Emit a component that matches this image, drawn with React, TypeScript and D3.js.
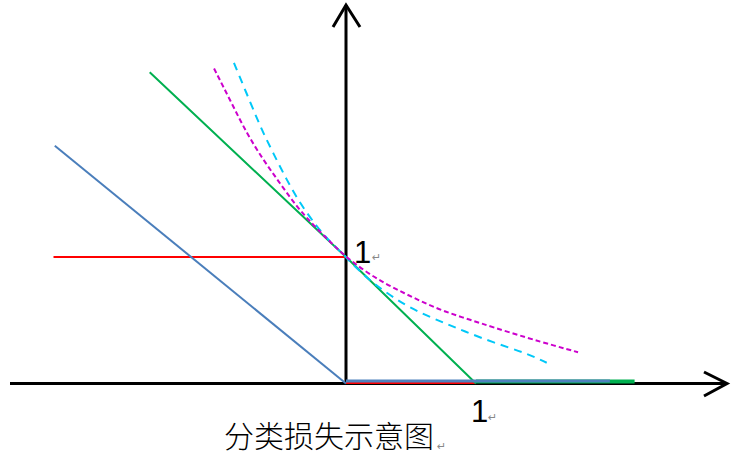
import React, { useEffect, useRef } from 'react'
import * as d3 from 'd3'

// values, in axis units (x unit = "1" tick, y unit = "1" tick)
const zeroOneLeft: [number, number][] = [[-2.25, 1], [0, 1]]
const zeroOneRight: [number, number][] = [[0, 0], [1, 0]]
const perceptron: [number, number][] = [[-2.24, 1.88], [0, 0]]
const perceptronFlat: [number, number][] = [[0, 0], [2.03, 0]]
const hinge: [number, number][] = [[-1.51, 2.46], [0, 1], [1, 0]]
const hingeFlat: [number, number][] = [[1, 0], [2.22, 0]]
const logLoss: [number, number][] = [
  [-1.015, 2.49], [-0.879, 2.215], [-0.764, 1.978], [-0.636, 1.767], [-0.508, 1.583],
  [-0.379, 1.398], [-0.252, 1.253], [-0.123, 1.12], [0, 1], [0.15, 0.885], [0.3, 0.79],
  [0.45, 0.713], [0.6, 0.638], [0.76, 0.568], [0.95, 0.505], [1.13, 0.445], [1.39, 0.362],
  [1.6, 0.3], [1.785, 0.247],
]
const expLoss: [number, number][] = [
  [-0.862, 2.534], [-0.733, 2.215], [-0.648, 2.004], [-0.559, 1.82], [-0.456, 1.609],
  [-0.354, 1.425], [-0.225, 1.24], [-0.123, 1.12], [0, 1], [0.146, 0.844], [0.3, 0.726],
  [0.454, 0.62], [0.608, 0.542], [0.762, 0.476], [0.902, 0.417], [1.133, 0.323],
  [1.39, 0.239], [1.544, 0.164],
]
const tickLabel = '1'
const title = '分类损失示意图'

const W = 732
const H = 460

export default function App() {
  const ref = useRef<SVGSVGElement>(null)

  useEffect(() => {
    const svg = d3.select(ref.current)
    svg.selectAll('*').remove()

    const x = d3.scaleLinear().domain([0, 1]).range([346, 476])
    const y = d3.scaleLinear().domain([0, 1]).range([383.5, 257])

    const line = (dy = 0) =>
      d3.line<[number, number]>().x((d) => x(d[0])).y((d) => y(d[1]) + dy)
    const smooth = d3
      .line<[number, number]>()
      .x((d) => x(d[0]))
      .y((d) => y(d[1]))
      .curve(d3.curveBasis)

    // axes
    const ax = svg.append('g').attr('stroke', '#000').attr('stroke-width', 3).attr('fill', 'none')
    ax.append('line').attr('x1', 10).attr('x2', 727).attr('y1', y(0)).attr('y2', y(0))
    ax.append('path').attr('d', `M704,372L727,${y(0)}L704,396`)
    ax.append('line').attr('x1', x(0)).attr('x2', x(0)).attr('y1', y(0)).attr('y2', 5)
    ax.append('path').attr('d', `M333,27L${x(0)},5L360,27`)

    // solid losses
    svg.append('path').attr('d', line()(zeroOneLeft)).attr('stroke', '#ff0000').attr('stroke-width', 2).attr('fill', 'none')
    svg.append('path').attr('d', line(-1)(zeroOneRight)).attr('stroke', '#ff0000').attr('stroke-width', 3).attr('fill', 'none')
    svg.append('path').attr('d', line(-2)(hingeFlat)).attr('stroke', '#00b050').attr('stroke-width', 4).attr('fill', 'none')
    svg.append('path').attr('d', line()(hinge)).attr('stroke', '#00b050').attr('stroke-width', 2).attr('fill', 'none')
    svg.append('path').attr('d', line()(perceptron)).attr('stroke', '#4a7ebb').attr('stroke-width', 2).attr('fill', 'none')
    svg.append('path').attr('d', line(-2.5)(perceptronFlat)).attr('stroke', '#4f81bd').attr('stroke-width', 3).attr('fill', 'none')

    // dashed losses
    svg.append('path').attr('d', smooth(expLoss)).attr('stroke', '#00c8f8').attr('stroke-width', 2)
      .attr('stroke-dasharray', '8,6').attr('fill', 'none')
    svg.append('path').attr('d', smooth(logLoss)).attr('stroke', '#cc00cc').attr('stroke-width', 2)
      .attr('stroke-dasharray', '5,3').attr('fill', 'none')

    // labels
    const num = svg.append('g').attr('font-family', 'Liberation Sans, Arial, sans-serif').attr('font-size', 31).attr('fill', '#000')
    num.append('text').attr('x', x(0) + 8).attr('y', y(1) + 6).text(tickLabel)
    num.append('text').attr('x', x(1) - 5).attr('y', y(0) + 38).text(tickLabel)

    const ret = svg.append('g').attr('font-family', 'DejaVu Sans, sans-serif').attr('font-size', 11).attr('fill', '#888')
    ret.append('text').attr('x', x(0) + 26).attr('y', y(1) + 4).text('↵')
    ret.append('text').attr('x', x(1) + 12).attr('y', y(0) + 37).text('↵')

    svg.append('text').attr('x', 224).attr('y', 447).attr('font-family', 'Noto Sans CJK SC, sans-serif')
      .attr('font-size', 30).attr('font-weight', 300).attr('fill', '#000').text(title)
    ret.append('text').attr('x', 437).attr('y', 450).text('↵')
  }, [])

  return (
    <svg
      ref={ref}
      width={W}
      height={H}
      style={{ position: 'absolute', left: 0, top: 0, background: '#fff' }}
    ></svg>
  )
}
